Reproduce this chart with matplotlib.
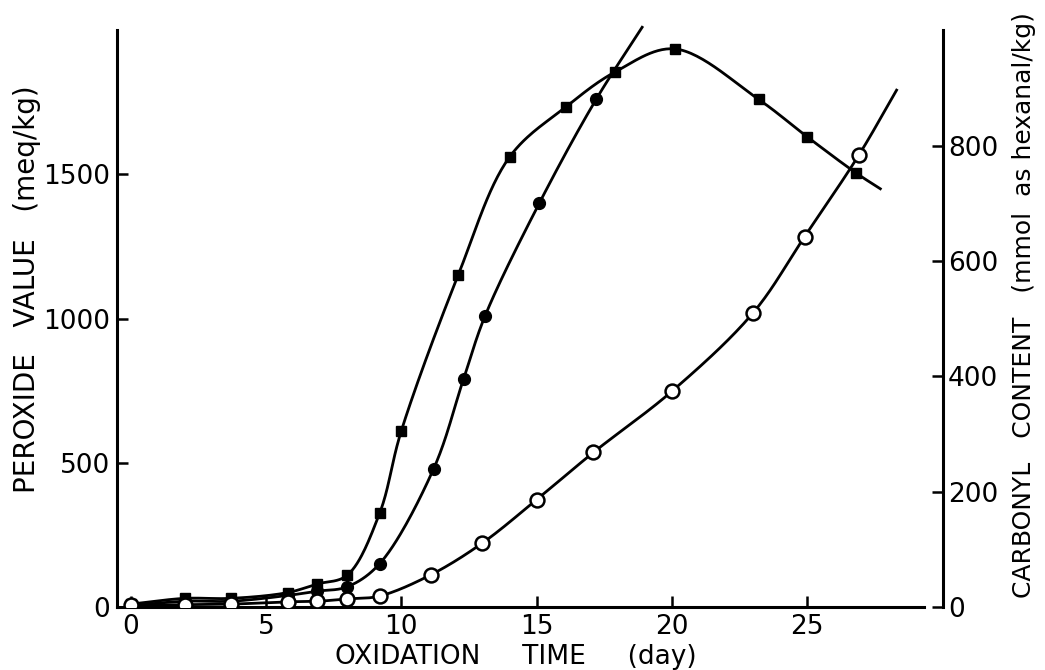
import numpy as np
import matplotlib
matplotlib.use('Agg')
import matplotlib.pyplot as plt

plt.rcParams['font.family'] = ['DejaVu Sans']

# peroxide value, filled squares (left axis)
sq_days = [0, 2, 3.7, 5.8, 6.9, 8.0, 9.2, 10.0, 12.1, 14.0, 16.1, 17.9, 20.1, 23.2, 25.0, 26.8]
sq_vals = [10, 30, 30, 50, 80, 110, 325, 610, 1150, 1560, 1735, 1855, 1935, 1760, 1630, 1505]
sq_end = (27.7, 1450)

# peroxide value, filled circles (left axis)
fc_days = [0, 2, 3.7, 5.8, 6.9, 8.0, 9.2, 11.2, 12.3, 13.1, 15.1, 17.2]
fc_vals = [5, 20, 20, 40, 55, 70, 150, 480, 790, 1010, 1400, 1760]
fc_end = (18.9, 2010)

# carbonyl content, open circles (right axis)
oc_days = [0, 2, 3.7, 5.8, 6.9, 8.0, 9.2, 11.1, 13.0, 15.0, 17.1, 20.0, 23.0, 24.9, 26.9]
oc_vals = [3, 4, 5, 9, 10, 14, 19, 56, 111, 186, 268, 374, 510, 642, 783]
oc_end = (28.3, 896)

x_ticks = [0, 5, 10, 15, 20, 25]
left_ticks = [0, 500, 1000, 1500]
right_ticks = [0, 200, 400, 600, 800]


def smooth(a, xs, ys, n=30):
    # centripetal Catmull-Rom, computed in display space
    p = a.transData.transform(np.column_stack([xs, ys]))
    p = np.vstack([2 * p[0] - p[1], p, 2 * p[-1] - p[-2]])
    out = []
    for i in range(1, len(p) - 2):
        p0, p1, p2, p3 = p[i - 1], p[i], p[i + 1], p[i + 2]
        t0 = 0.0
        t1 = t0 + np.linalg.norm(p1 - p0) ** 0.5
        t2 = t1 + np.linalg.norm(p2 - p1) ** 0.5
        t3 = t2 + np.linalg.norm(p3 - p2) ** 0.5
        t = np.linspace(t1, t2, n, endpoint=False)[:, None]
        a1 = (t1 - t) / (t1 - t0) * p0 + (t - t0) / (t1 - t0) * p1
        a2 = (t2 - t) / (t2 - t1) * p1 + (t - t1) / (t2 - t1) * p2
        a3 = (t3 - t) / (t3 - t2) * p2 + (t - t2) / (t3 - t2) * p3
        b1 = (t2 - t) / (t2 - t0) * a1 + (t - t0) / (t2 - t0) * a2
        b2 = (t3 - t) / (t3 - t1) * a2 + (t - t1) / (t3 - t1) * a3
        out.append((t2 - t) / (t2 - t1) * b1 + (t - t1) / (t2 - t1) * b2)
    out.append(p[-2][None, :])
    out = a.transData.inverted().transform(np.vstack(out))
    return out[:, 0], out[:, 1]


fig = plt.figure(figsize=(10.45, 6.7), dpi=100)
ax = fig.add_axes([0.112, 0.094, 0.79, 0.861])
ax2 = ax.twinx()

ax.set_xlim(-0.5, 30)
ax.set_ylim(0, 2000)
ax2.set_ylim(0, 1000)

lw = 2.0
sx, sy = smooth(ax, sq_days + [sq_end[0]], sq_vals + [sq_end[1]])
ax.plot(sx, sy, color='black', lw=lw, zorder=3)
ax.plot(sq_days, sq_vals, 's', color='black', ms=7.5, zorder=4)

fx, fy = smooth(ax, fc_days + [fc_end[0]], fc_vals + [fc_end[1]])
ax.plot(fx, fy, color='black', lw=lw, zorder=3, clip_on=False)
ax.plot(fc_days, fc_vals, 'o', color='black', ms=8.5, zorder=4)

ox, oy = smooth(ax2, oc_days + [oc_end[0]], oc_vals + [oc_end[1]])
ax2.plot(ox, oy, color='black', lw=lw, zorder=3)
ax2.plot(oc_days, oc_vals, 'o', mfc='white', mec='black', mew=1.8, ms=10, zorder=4)

for s in ['top', 'right']:
    ax.spines[s].set_visible(False)
for s in ['top', 'left', 'bottom']:
    ax2.spines[s].set_visible(False)
for a in (ax, ax2):
    for s in a.spines.values():
        s.set_linewidth(2.2)
ax.spines['bottom'].set_bounds(-0.5, 29.3)

ax.set_xticks(x_ticks)
ax.set_yticks(left_ticks)
ax2.set_yticks(right_ticks)
ax.tick_params(axis='both', direction='in', length=8, width=1.8, labelsize=19, pad=5)
ax2.tick_params(axis='y', direction='in', length=8, width=1.8, labelsize=19, pad=4)

fig.text(0.026, 0.569, 'PEROXIDE   VALUE   (meq/kg)', rotation=90, ha='center', va='center', fontsize=20)
fig.text(0.980, 0.545, 'CARBONYL   CONTENT   (mmol  as hexanal/kg)', rotation=90, ha='center', va='center', fontsize=18)
fig.text(0.494, 0.02, 'OXIDATION     TIME     (day)', ha='center', va='center', fontsize=19)

plt.savefig('out.png', dpi=100)
